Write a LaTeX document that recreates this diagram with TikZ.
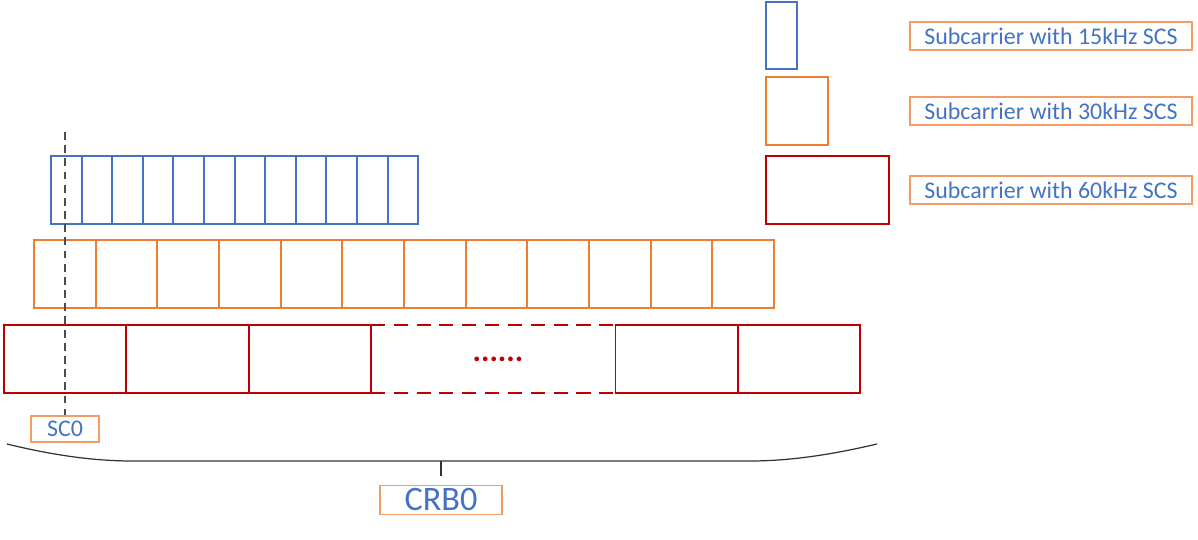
\documentclass[tikz,border=0pt]{standalone}
\usepackage{fontspec}
\setmainfont{Carlito}
\usepackage{xcolor}
\usepackage{tikz}
\usetikzlibrary{positioning}
\definecolor{scsblue}{RGB}{68,114,196}
\definecolor{scsorange}{RGB}{237,125,49}
\definecolor{scsred}{RGB}{192,0,0}

\begin{document}
\begin{tikzpicture}[x=0.02cm,y=-0.02cm,line width=1.1pt,
  lbl/.style={draw=scsorange!75,line width=0.8pt,text=scsblue,font=\fontsize{13.6}{15}\selectfont,inner sep=0pt,minimum height=0.56cm},
  brace/.style={black!80,line width=0.7pt}]
  \useasboundingbox (0,0) rectangle (1198,540);
  % 15kHz subcarriers
  \foreach \i in {0,...,11} {
     \pgfmathsetmacro\x{51+\i*30.6}
     \draw[scsblue] (\x,156) rectangle ++(30.6,68);
  }
  % 30kHz subcarriers
  \foreach \i in {0,...,11} {
     \pgfmathsetmacro\x{34+\i*61.67}
     \draw[scsorange] (\x,240) rectangle ++(61.67,68);
  }
  % 60kHz subcarriers, cells 3 and 4 are the gap
  \foreach \i in {0,1,2,5,6} {
     \pgfmathsetmacro\x{4+\i*122.3}
     \draw[scsred] (\x,325) rectangle ++(122.3,68);
  }
  \draw[scsred,dash pattern=on 8pt off 5pt] (370.9,325) -- (614.5,325) (370.9,393) -- (614.5,393);
  \node[text=scsred,font=\fontsize{18}{20}\selectfont\bfseries,inner sep=0pt] (gap) at (498,359) {......};
  % legend
  \draw[scsblue] (766,2) rectangle (797,69);
  \draw[scsorange] (766,77) rectangle (828,145);
  \draw[scsred] (766,156) rectangle (889,224);
  \node[lbl,minimum width=5.64cm] (leg15) at (1051,36) {Subcarrier with 15kHz SCS};
  \node[lbl,minimum width=5.64cm] (leg30) at (1051,111) {Subcarrier with 30kHz SCS};
  \node[lbl,minimum width=5.64cm] (leg60) at (1051,190) {Subcarrier with 60kHz SCS};
  % SC0 marker
  \node[lbl,minimum width=1.36cm,minimum height=0.52cm] (sc0) at (65,429) {SC0};
  \coordinate (sctop) at (65,132);
  \draw[black!70,line width=1pt,dash pattern=on 4.5pt off 3pt] (sctop) -- (sc0.north);
  % brace over the resource block
  \coordinate (bl) at (7,444);
  \coordinate (br) at (877,444);
  \coordinate (bmid) at (441,461);
  \coordinate (btick) at (441,476);
  \draw[brace] (bl) .. controls (60,457) and (100,461) .. (132,461) -- (750,461)
     .. controls (782,461) and (822,457) .. (br);
  \draw[brace] (bmid) -- (btick);
  \node[lbl,font=\fontsize{19.5}{22}\selectfont,minimum width=2.44cm,minimum height=0.58cm] (crb0) at (441,500) {CRB0};
\end{tikzpicture}
\end{document}
